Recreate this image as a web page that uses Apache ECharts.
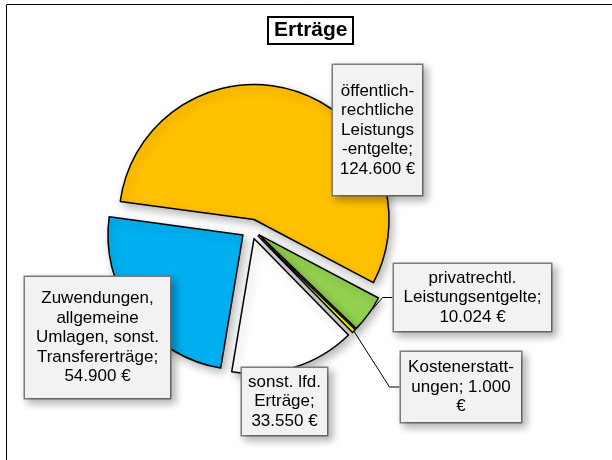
<!DOCTYPE html>
<html>
<head>
<meta charset="utf-8">
<script src="https://cdn.jsdelivr.net/npm/echarts@6/dist/echarts.min.js"></script>
<style>
  html, body { margin: 0; padding: 0; background: #ffffff; }
  #chart { width: 612px; height: 460px; }
</style>
</head>
<body>
<div id="chart"></div>
<script>
// Erträge – Anteile der Ertragsarten
const categories = [
  'öffentlich-rechtliche Leistungsentgelte',
  'privatrechtliche Leistungsentgelte',
  'Kostenerstattungen',
  'sonstige laufende Erträge',
  'Zuwendungen, allgemeine Umlagen, sonstige Transfererträge'
];
const values = [124600, 10024, 1000, 33550, 54900];
const colors = ['#FFC000', '#92D050', '#FFFF00', '#FFFFFF', '#00B0F0'];

// Beschriftungstexte mit Zeilenumbrüchen; {v} wird durch den Wert ersetzt
const labelTemplates = [
  'öffentlich-\nrechtliche\nLeistungs\n-entgelte;\n{v} €',
  'privatrechtl.\nLeistungsentgelte;\n{v} €',
  'Kostenerstatt-\nungen; {v}\n€',
  'sonst. lfd.\nErträge;\n{v} €',
  'Zuwendungen,\nallgemeine\nUmlagen, sonst.\nTransfererträge;\n{v} €'
];

// Lage der Beschriftungskästen (Mittelpunkt, Breite, Höhe) und Führungslinien
const labelBoxes = [
  { cx: 377.5, cy: 130,   w: 91,  h: 130, line: false },
  { cx: 472.5, cy: 297.5, w: 159, h: 67,  line: true },
  { cx: 461,   cy: 387,   w: 122, h: 70,  line: true },
  { cx: 284.5, cy: 401.5, w: 87,  h: 67,  line: false },
  { cx: 97.5,  cy: 337.5, w: 147, h: 121, line: false }
];

const FONT = '"Liberation Sans", Arial, sans-serif';
const FONT_SIZE = 17;
const LINE_H = 19.5;
const PIE_CENTER = [251, 229];
const PIE_RADIUS = 135;
const START_ANGLE = 172.3;
const EXPLODE = 10;

function formatDE(v) {
  return String(v).replace(/\B(?=(\d{3})+(?!\d))/g, '.');
}

const total = values.reduce(function (a, b) { return a + b; }, 0);

// Jedes Segment bekommt eine eigene Pie-Serie, deren Mittelpunkt entlang
// der Winkelhalbierenden des Segments nach außen verschoben ist.
const series = values.map(function (v, i) {
  const before = values.slice(0, i).reduce(function (a, b) { return a + b; }, 0);
  const midDeg = START_ANGLE - (before + v / 2) / total * 360;
  const mid = midDeg * Math.PI / 180;
  const center = [PIE_CENTER[0] + EXPLODE * Math.cos(mid), PIE_CENTER[1] - EXPLODE * Math.sin(mid)];
  const box = labelBoxes[i];
  const lines = labelTemplates[i].split('\n').length;
  const padV = Math.max(0, (box.h - lines * LINE_H) / 2);

  const data = values.map(function (val, j) {
    if (j !== i) {
      return {
        name: categories[j],
        value: val,
        itemStyle: { color: 'rgba(0,0,0,0)', borderWidth: 0, shadowBlur: 0, shadowColor: 'rgba(0,0,0,0)' },
        label: { show: false },
        labelLine: { show: false }
      };
    }
    return {
      name: categories[j],
      value: val,
      itemStyle: { color: colors[j] },
      label: { show: true, width: box.w - 2, padding: [padV, 0, padV, 0] },
      labelLine: { show: box.line }
    };
  });

  return {
    type: 'pie',
    name: categories[i],
    center: center,
    radius: PIE_RADIUS,
    startAngle: START_ANGLE,
    clockwise: true,
    avoidLabelOverlap: false,
    silent: true,
    emphasis: { disabled: true },
    itemStyle: {
      borderColor: '#000',
      borderWidth: 1.5,
      shadowBlur: 8,
      shadowColor: 'rgba(0,0,0,0.28)',
      shadowOffsetX: 3,
      shadowOffsetY: 4
    },
    label: {
      position: 'outside',
      fontFamily: FONT,
      fontSize: FONT_SIZE,
      lineHeight: LINE_H,
      color: '#000',
      align: 'center',
      backgroundColor: '#F2F2F2',
      borderColor: '#7F7F7F',
      borderWidth: 1.5,
      shadowBlur: 8,
      shadowColor: 'rgba(0,0,0,0.28)',
      shadowOffsetX: 4,
      shadowOffsetY: 4,
      formatter: function (p) {
        return labelTemplates[p.dataIndex].replace('{v}', formatDE(p.value));
      }
    },
    labelLine: {
      length: 10,
      length2: 10,
      lineStyle: { color: '#000', width: 1 }
    },
    labelLayout: function (params) {
      const b = labelBoxes[params.dataIndex];
      return { x: b.cx, y: b.cy, align: 'center', verticalAlign: 'middle' };
    },
    data: data
  };
});

const chart = echarts.init(document.getElementById('chart'), null, { renderer: 'canvas' });

chart.setOption({
  animation: false,
  backgroundColor: '#ffffff',
  title: {
    text: 'Erträge',
    left: 268,
    top: 17,
    padding: [3, 6, 3, 6],
    borderColor: '#000',
    borderWidth: 2,
    textStyle: { fontFamily: FONT, fontSize: 21, fontWeight: 'bold', color: '#000' }
  },
  graphic: [{
    type: 'rect',
    z: -10,
    shape: { x: 6.5, y: 4.5, width: 700, height: 500 },
    style: { fill: 'none', stroke: '#000', lineWidth: 1 }
  }],
  series: series
});
</script>
</body>
</html>
